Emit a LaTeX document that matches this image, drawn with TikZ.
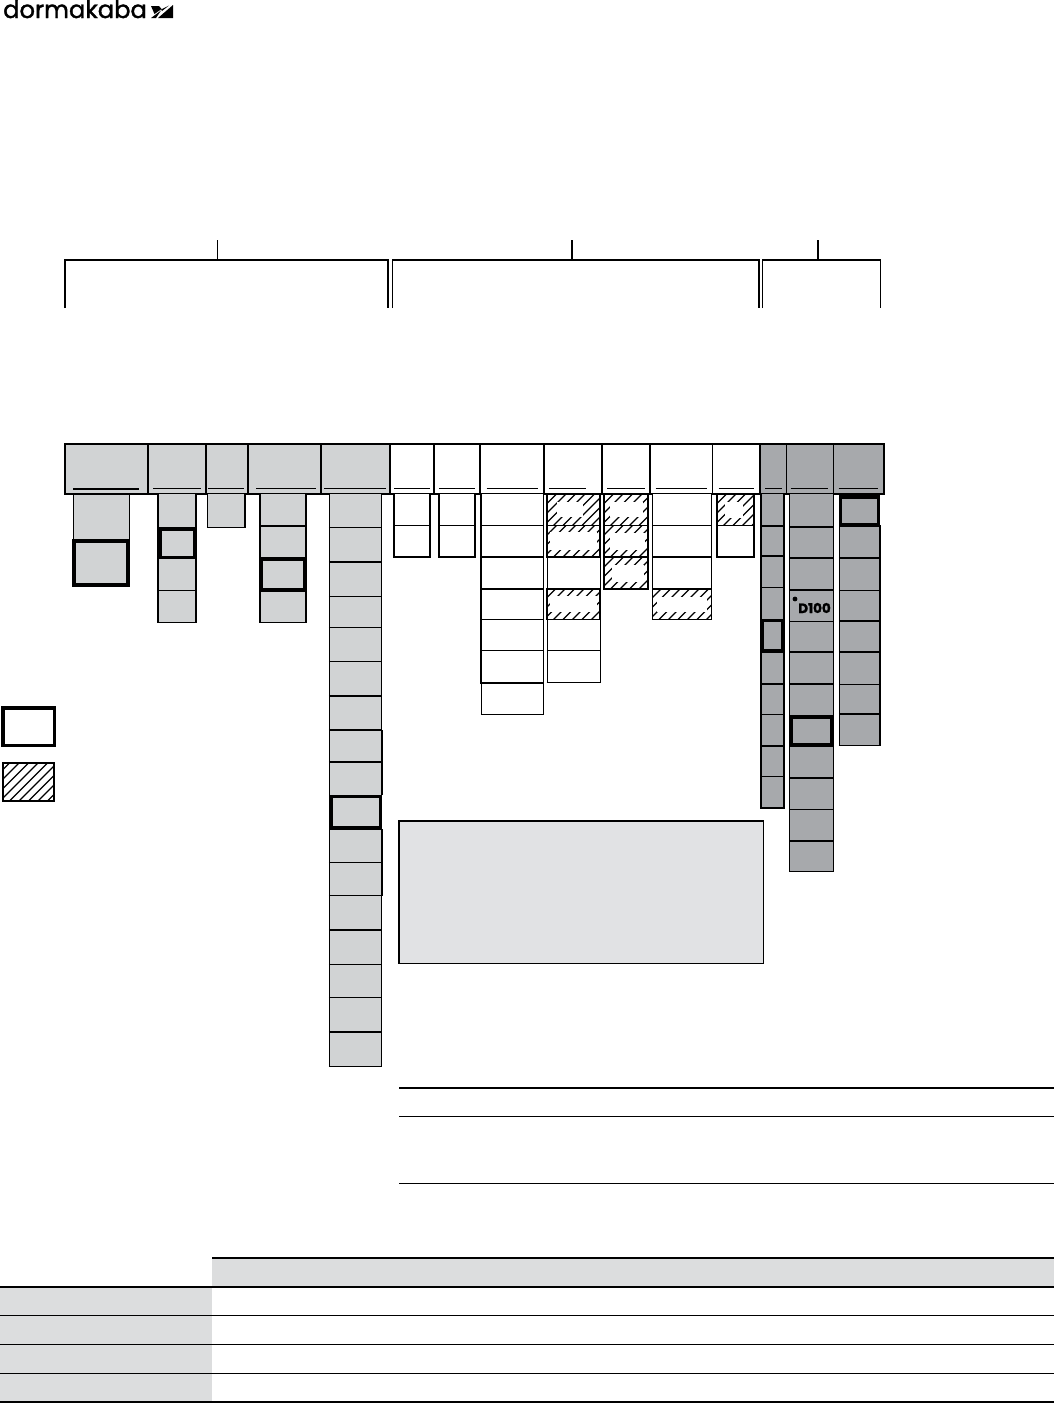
\documentclass[tikz,border=0pt]{standalone}
\usepackage{fontspec}
\newfontfamily\logofont[FakeBold=1.5]{Poppins}
\newfontfamily\markfont[FakeBold=1.5]{Poppins}
\definecolor{lg}{HTML}{D1D3D4}
\definecolor{mg}{HTML}{A7A9AC}
\definecolor{pg}{HTML}{E1E2E4}
\definecolor{tg}{HTML}{DCDDDE}
\tikzset{
  rule/.style={draw=black,line width=#1},
  bracket/.style={draw=black,line width=1.2pt},
  heavybox/.style={draw=black,line width=3.4pt},
}
% column: x0, x1, fill, side lw, ytop, ybottom, separators y/lw (top and bottom included)
\newcommand{\cellcol}[7]{%
  \fill[#3] (#1,#5) rectangle (#2,#6);
  \draw[line width=#4 pt] (#1,#5) -- (#1,#6);
  \draw[line width=#4 pt] (#2,#5) -- (#2,#6);
  \foreach \yy/\lw in {#7}{%
    \draw[line width=\lw pt] (#1-#4/2,\yy) -- (#2+#4/2,\yy);
  }%
}
% hatched cell: x0,y0,x1,y1, side lw, knock-out box xa,ya,xb,yb
\newcommand{\hatchcell}[9]{%
  \begin{scope}
    \clip (#1,#2) rectangle (#3,#4);
    \foreach \d in {-60,-50.5,...,90}{%
      \draw[line width=1.2pt] (#1+\d,#4) -- ++(60,-60);
    }
    \fill[white] (#6,#7) rectangle (#8,#9);
  \end{scope}
  \draw[line width=#5 pt] (#1,#2) rectangle (#3,#4);
}
\begin{document}
\begin{tikzpicture}[x=1pt,y=-1pt]
\useasboundingbox (0,0) rectangle (1054,1403);
\fill[white] (0,0) rectangle (1054,1403);

% logo
\node[anchor=base west,inner sep=0pt,font=\logofont\fontsize{24.2}{24.2}\selectfont] (logo) at (3,18) {dormakaba};
\fill[black] (151,6) -- (159,6) -- (161.5,9) -- (154.5,14) -- cycle;
\fill[black] (151,18) -- (161,10.5) -- (156,18) -- cycle;
\fill[black] (173,5) -- (173,18) -- (158,18) -- cycle;
\fill[black] (161,9.5) -- (169,5.5) -- (162,11) -- cycle;

% brackets
\coordinate (b1a) at (65,308); \coordinate (b1b) at (65,260); \coordinate (b1c) at (388,260); \coordinate (b1d) at (388,308);
\draw[bracket] (b1a) -- (b1b) -- (b1c) -- (b1d);
\draw[bracket] (217.5,240) -- (217.5,260);
\coordinate (b2a) at (392.5,308); \coordinate (b2b) at (392.5,260); \coordinate (b2c) at (759,260); \coordinate (b2d) at (759,308);
\draw[bracket] (b2a) -- (b2b) -- (b2c) -- (b2d);
\draw[bracket] (572,240) -- (572,260);
\coordinate (b3a) at (762.5,308); \coordinate (b3b) at (762.5,260); \coordinate (b3c) at (880.5,260); \coordinate (b3d) at (880.5,308);
\draw[bracket] (b3a) -- (b3b) -- (b3c) -- (b3d);
\draw[bracket] (818,240) -- (818,260);

% header
\foreach \xa/\xb/\ua/\ub/\f/\w in {
  65/148/73/139/lg/2,148/206/153/201/lg/1.2,206/248/208/244/lg/1.2,248/321/256/316/lg/1,321/390/324/386/lg/1,
  390/434/394/430/white/1.2,434/480/439/474.5/white/1,480/544/486.5/538/white/1.2,544/602/549/586/white/1.2,
  602/650/607/645/white/1.2,650/712.5/655.5/707/white/1.2,712.5/760/718.5/754/white/1.2,
  760/786.5/765/782/mg/1.2,786.5/833.5/790.5/828/mg/1.2,833.5/884/838.5/878/mg/1.2}{
  \draw[fill=\f,line width=1.2pt] (\xa,444) rectangle (\xb,494);
  \draw[line width=\w pt] (\ua,488.7) -- (\ub,488.7);
}

% C1
\cellcol{73}{129}{lg}{1}{494}{540}{494/1}
\draw[heavybox,fill=lg] (74,541) rectangle (128,585);
% C2
\cellcol{158}{196}{lg}{1.5}{494}{622.5}{590/1,622.5/1.5}
\draw[heavybox,fill=lg] (160,529) rectangle (194.5,557.5);
% C3
\cellcol{207.5}{245}{lg}{1.2}{494}{527.5}{527.5/1.5}
% C4
\cellcol{260}{306}{lg}{1.3}{494}{622.5}{526/1.5,622.5/1.3}
\draw[heavybox,fill=lg] (261.5,559) rectangle (304.5,590);
% C5
\cellcol{329.5}{381.5}{lg}{1.5}{494}{1066}{527.5/1,562/1.5,596.5/1.5,627.5/1,661/1,696/1.5,730/1.5,762/1.5,862.5/1,895.5/1,930/1.5,964/1,997/1,1032/1.5,1066/1}
\draw[line width=1.5pt] (382.5,730) -- (382.5,795);
\draw[line width=1.5pt] (382.5,829) -- (382.5,895.5);
\draw[heavybox,fill=lg] (331.5,796.5) rectangle (380.5,828);
% C6, C7
\cellcol{394}{430}{white}{1.5}{494}{557}{525.5/1,557/1.5}
\cellcol{439}{475}{white}{1.5}{494}{557}{525.5/1,557/1.5}
% C8
\cellcol{481}{543.5}{white}{1.3}{494}{683}{525.5/1,557/1.5,589/1.5,619.5/1,650.5/1.5,683/1.8}
\draw[line width=1pt] (481.5,683) rectangle (543.5,714.5);
% C9
\hatchcell{547}{494}{600}{525.5}{1.2}{557}{502}{583}{517}
\hatchcell{547}{525.5}{600}{557}{1.2}{550}{532}{597}{550}
\cellcol{547}{600}{white}{1}{557}{589}{557/1.5}
\hatchcell{547}{589}{600}{619.5}{1.2}{550}{596}{597}{612}
\cellcol{547}{600}{white}{1}{619.5}{682.5}{619.5/1,650.5/1.5,682.5/1}
% C10
\hatchcell{604}{494}{648}{525.5}{1.5}{610}{502}{643}{517}
\hatchcell{604}{525.5}{648}{557}{1.5}{610}{533}{645}{550}
\hatchcell{604}{557}{648}{589}{1.5}{612}{565}{644}{582}
% C11
\cellcol{652.5}{711}{white}{1}{494}{589}{525.5/1,557/1.5,589/1.5}
\hatchcell{652.5}{589}{711}{619.5}{1}{657}{597}{707}{612}
% C12
\hatchcell{717}{494}{754}{525.5}{1.5}{725}{502}{743}{518}
\cellcol{717}{754}{white}{1.5}{525.5}{557}{525.5/1,557/1.5}
% C13
\cellcol{761}{784}{mg}{1.6}{494}{808}{526/1.5,556/1.5,587/1,684/1.5,714.5/1,746/1.5,776.5/1,808/1.8}
\draw[heavybox,fill=mg] (762.5,620.5) rectangle (782.5,651);
% C14
\cellcol{789.5}{833.5}{mg}{1}{494}{871.5}{527/1.5,558/1.5,590/1.5,621.5/1,652/1.5,684/1.5,778/1.3,809/1,841/1.5,871.5/1}
\draw[heavybox,fill=mg] (791.5,717) rectangle (832,745);
\fill[black] (795,599) circle (2.4);
\node[anchor=center,inner sep=0pt,font=\markfont\bfseries\fontsize{13.5}{13.5}\selectfont] (dmark) at (814.5,608) {D100};
% C15
\cellcol{839.5}{880}{mg}{1.2}{525}{745.5}{558/1.5,590/1,621/1.5,652/1.5,684/1,714/1.5,745.5/1.5}
\draw[line width=1.5pt] (880.5,558) -- (880.5,621);
\draw[heavybox,fill=mg] (840.5,497) rectangle (878.5,525);

% legend
\draw[heavybox] (3,708) rectangle (54.5,745.5);
\hatchcell{3}{763}{54}{801}{1.6}{0}{0}{0}{0}

% panel
\draw[fill=pg,line width=1pt] (399,821) rectangle (763.5,963.5);
\draw[line width=2pt] (399,963.5) -- (399,821) -- (763.5,821);

% rules
\draw[rule=2pt] (399,1088) -- (1054,1088);
\draw[rule=1pt] (399,1116.3) -- (1054,1116.3);
\draw[rule=1pt] (399,1183.3) -- (1054,1183.3);

% table
\fill[tg] (212,1258) rectangle (1054,1287);
\fill[tg] (0,1287) rectangle (212,1402);
\draw[rule=2pt] (212,1258) -- (1054,1258);
\draw[rule=2pt] (0,1287) -- (1054,1287);
\draw[rule=1pt] (0,1315.5) -- (1054,1315.5);
\draw[rule=1pt] (0,1344.5) -- (1054,1344.5);
\draw[rule=1pt] (0,1373.5) -- (1054,1373.5);
\draw[rule=2pt] (0,1402) -- (1054,1402);
\end{tikzpicture}
\end{document}
